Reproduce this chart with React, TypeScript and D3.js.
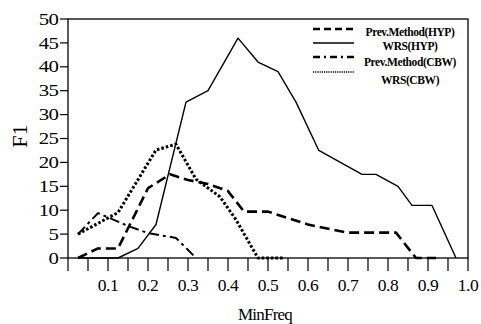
import React from "react";
import * as d3 from "d3";

const width = 481;
const height = 324;
const margin = { top: 19, right: 13, bottom: 66, left: 68 };

// data
const prevHypX = [0.025, 0.075, 0.125, 0.2, 0.255, 0.3, 0.35, 0.4, 0.44, 0.5, 0.6, 0.7, 0.82, 0.87, 0.92];
const prevHypY = [0, 2, 2, 14.6, 17.5, 16.3, 15.5, 14, 9.7, 9.7, 7, 5.3, 5.3, 0, 0];

const wrsHypX = [0.025, 0.125, 0.175, 0.22, 0.295, 0.35, 0.425, 0.475, 0.525, 0.57, 0.627, 0.735, 0.77, 0.825, 0.86, 0.91, 0.97];
const wrsHypY = [0, 0, 2, 7, 32.6, 35, 46, 41, 39, 32.6, 22.5, 17.5, 17.5, 15, 11, 11, 0];

const prevCbwX = [0.025, 0.075, 0.15, 0.2, 0.27, 0.32];
const prevCbwY = [5, 9.4, 6.7, 5.2, 4.2, 0];

const wrsCbwX = [0.025, 0.125, 0.22, 0.27, 0.32, 0.38, 0.42, 0.475, 0.54];
const wrsCbwY = [5, 9.5, 22.6, 23.8, 16.5, 12.8, 8, 0, 0];

const yTicks = [0, 5, 10, 15, 20, 25, 30, 35, 40, 45, 50];
const xLabels = [0.1, 0.2, 0.3, 0.4, 0.5, 0.6, 0.7, 0.8, 0.9, 1.0];
const xMinor = d3.range(0, 21).map((i) => i * 0.05);

const seriesNames = ["Prev.Method(HYP)", "WRS(HYP)", "Prev.Method(CBW)", "WRS(CBW)"];

const styles = [
  { width: 2.6, dash: "10 5" },
  { width: 1.4, dash: "" },
  { width: 2, dash: "10 4 3 4" },
  { width: 3, dash: "2.6 2" },
];
const legendDash = ["7 4", "", "7 4 2 4", "1.2 1"];
const legendWidth = [2.4, 1.6, 2.4, 1.4];
const legendLineY = [29, 43, 57, 72];
const legendTextY = [36, 50, 66, 84];

const zip = (xs: number[], ys: number[]) => xs.map((x, i) => [x, ys[i]] as [number, number]);

export default function App() {
  const innerW = width - margin.left - margin.right;
  const innerH = height - margin.top - margin.bottom;
  const x = d3.scaleLinear().domain([0, 1]).range([margin.left, margin.left + innerW]);
  const y = d3.scaleLinear().domain([0, 50]).range([margin.top + innerH, margin.top]);
  const line = d3
    .line<[number, number]>()
    .x((d) => x(d[0]))
    .y((d) => y(d[1]));

  const series = [
    zip(prevHypX, prevHypY),
    zip(wrsHypX, wrsHypY),
    zip(prevCbwX, prevCbwY),
    zip(wrsCbwX, wrsCbwY),
  ];

  const font = "'Liberation Serif', 'Times New Roman', serif";

  return (
    <svg
      width={width}
      height={height}
      style={{ position: "absolute", left: 0, top: 0, background: "#fff" }}
      fontFamily={font}
    >
      {/* frame */}
      <rect
        x={x(0)}
        y={y(50)}
        width={x(1) - x(0)}
        height={y(0) - y(50)}
        fill="none"
        stroke="#000"
        strokeWidth={1.3}
      />

      {/* y axis */}
      {yTicks.map((t) => (
        <g key={t}>
          <line x1={x(0) - 8} x2={x(0)} y1={y(t)} y2={y(t)} stroke="#000" strokeWidth={1.2} />
          <text
            transform={`translate(${x(0) - 10},${y(t)}) scale(1.3,1)`}
            dy="0.35em"
            textAnchor="end"
            fontSize={16}
            letterSpacing={-0.6}
          >
            {t}
          </text>
        </g>
      ))}

      {/* x axis */}
      {xMinor.map((t, i) => (
        <line key={i} x1={x(t)} x2={x(t)} y1={y(0)} y2={y(0) + 13} stroke="#000" strokeWidth={1.2} />
      ))}
      {xLabels.map((t) => (
        <text key={t} x={x(t)} y={y(0) + 33} textAnchor="middle" fontSize={17.5} letterSpacing={-0.4}>
          {t.toFixed(1)}
        </text>
      ))}

      <text x={265} y={320} textAnchor="middle" fontSize={17} letterSpacing={-0.8}>
        MinFreq
      </text>
      <text transform={`translate(27,136) rotate(-90)`} textAnchor="middle" fontSize={22}>
        F1
      </text>

      {/* lines */}
      {series.map((s, i) => (
        <path
          key={i}
          d={line(s) || ""}
          fill="none"
          stroke="#000"
          strokeWidth={styles[i].width}
          strokeDasharray={styles[i].dash}
          strokeLinejoin="round"
        />
      ))}

      {/* legend */}
      {seriesNames.map((name, i) => (
        <g key={name}>
          <line
            x1={313}
            x2={354}
            y1={legendLineY[i]}
            y2={legendLineY[i]}
            stroke="#000"
            strokeWidth={legendWidth[i]}
            strokeDasharray={legendDash[i]}
          />
          <text
            x={410}
            y={legendTextY[i]}
            textAnchor="middle"
            fontSize={11.5}
            fontWeight="bold"
            letterSpacing={-0.4}
          >
            {name}
          </text>
        </g>
      ))}
    </svg>
  );
}
